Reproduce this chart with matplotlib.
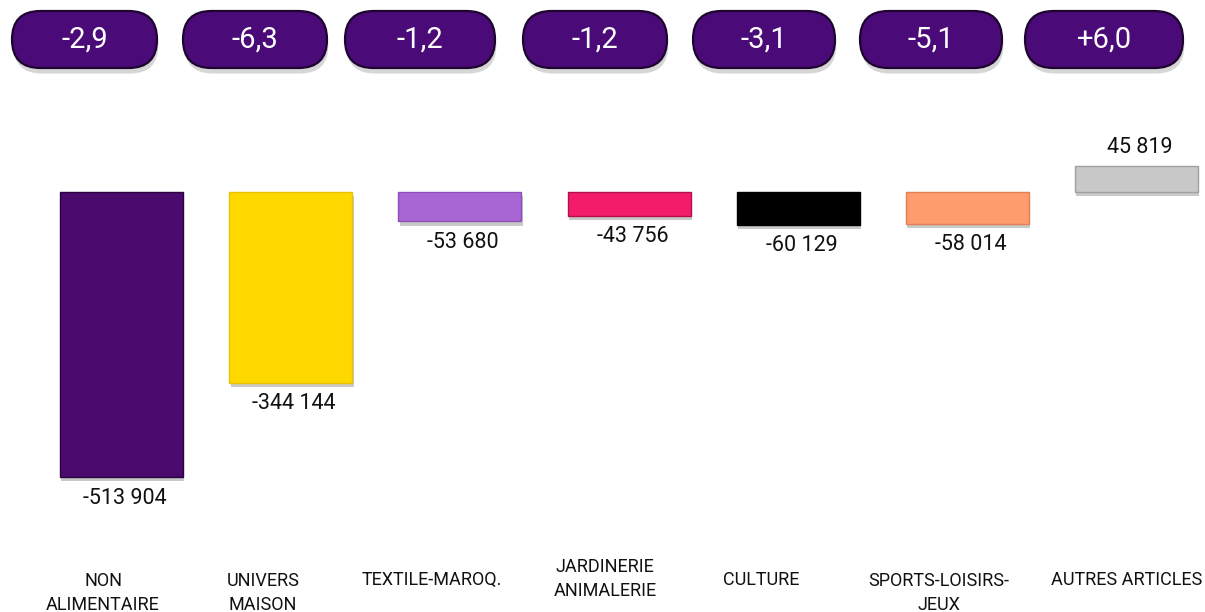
import numpy as np
import matplotlib
matplotlib.use('Agg')
import matplotlib.pyplot as plt
from matplotlib.patches import FancyBboxPatch
import matplotlib.patheffects as pe

plt.rcParams['font.family'] = ['Roboto', 'DejaVu Sans']

# ventes par rayon (écart en valeur) et évolution en %
categories = ['NON\nALIMENTAIRE', 'UNIVERS\nMAISON', 'TEXTILE-MAROQ.',
              'JARDINERIE\nANIMALERIE', 'CULTURE', 'SPORTS-LOISIRS-\nJEUX',
              'AUTRES ARTICLES']
values = [-513904, -344144, -53680, -43756, -60129, -58014, 45819]
changes = ['-2,9', '-6,3', '-1,2', '-1,2', '-3,1', '-5,1', '+6,0']
colors = ['#4B0A6E', '#FFD800', '#A866D4', '#F21C6B', '#000000', '#FF9C6E', '#C8C8C8']
edges = ['#2A0440', '#E8C400', '#8E4FB8', '#B0104C', '#000000', '#E07F55', '#A0A0A0']

# layout (pixels) for the pills and the category captions
pill_spans = [(12, 157), (183, 327), (345, 495), (523, 667), (693, 835), (860, 1002), (1025, 1183)]
label_x = [103, 263, 432, 605, 761, 939, 1127]
label_top = [572, 572, 571, 558, 571, 572, 571]


def fmt(v):
    s = f'{abs(v):,}'.replace(',', ' ')
    return ('-' if v < 0 else '') + s


fig = plt.figure(figsize=(12.05, 6.12), dpi=100)

# bars
ax = fig.add_axes([0, 0, 1, 1])
ax.axis('off')
pitch = 169.17
ax.set_xlim(-121.5 / pitch, (1205 - 121.5) / pitch)
px = 1798.6  # value units per pixel
ax.set_ylim(-(612 - 191.5) * px, 191.5 * px)

x = np.arange(len(values))
bars = ax.bar(x, values, width=123 / pitch, color=colors, edgecolor=edges, linewidth=1.0)
for b in bars:
    b.set_path_effects([pe.SimplePatchShadow(offset=(1, -3), shadow_rgbFace='#888888', alpha=0.45),
                        pe.Normal()])

for xi, v in zip(x, values):
    off = -15 if v < 0 else 13
    ax.annotate(fmt(v), (xi + 0.02, v), xytext=(0, off), textcoords='offset points',
                ha='center', va='center', fontsize=15.5, color='#111111')

# pills and captions in pixel coordinates
ov = fig.add_axes([0, 0, 1, 1], facecolor='none')
ov.axis('off')
ov.set_xlim(0, 1205)
ov.set_ylim(612, 0)

for (x0, x1), txt in zip(pill_spans, changes):
    top, h = 11, 57
    pill = FancyBboxPatch((x0, top), x1 - x0, h,
                          boxstyle=f'round,pad=0,rounding_size={h / 2}',
                          facecolor='#4A0A78', edgecolor='#1E0530', linewidth=1.6)
    pill.set_path_effects([pe.SimplePatchShadow(offset=(1, -4), shadow_rgbFace='#999999', alpha=0.4),
                           pe.Normal()])
    ov.add_patch(pill)
    ov.text((x0 + x1) / 2, top + h / 2, txt, ha='center', va='center',
            fontsize=21, color='white')

for lx, ly, lab in zip(label_x, label_top, categories):
    ov.text(lx, ly, lab, ha='center', va='top', fontsize=13, color='#111111',
            linespacing=1.45)

fig.savefig('out.png', dpi=100)
